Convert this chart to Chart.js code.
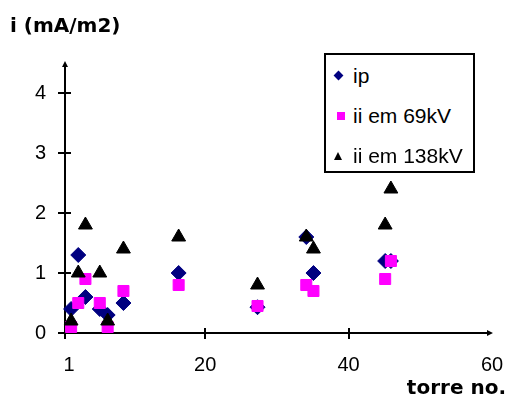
<!DOCTYPE html>
<html>
<head>
<meta charset="utf-8">
<title>i (mA/m2) x torre no.</title>
<script src="https://cdn.jsdelivr.net/npm/chart.js@4"></script>
<style>
  html, body { margin: 0; padding: 0; background: #fff; overflow: hidden; }
  .wrap { position: relative; width: 506px; height: 401px; }
  #chart { display: block; }
  .legend {
    position: absolute; left: 324px; top: 53px; width: 151px; height: 120px;
    box-sizing: border-box; border: 2px solid #000; background: #fff;
    padding-top: 1px; font-family: "Liberation Sans", Arial, sans-serif; font-size: 21px; color: #000;
  }
  .legend__item { position: relative; height: 40px; line-height: 40px; padding-left: 27px; white-space: nowrap; }
  .legend__mark { position: absolute; top: 50%; }
  .legend__mark--diamond { left: 9px; width: 7px; height: 7px; margin-top: -4px; background: #000080; transform: rotate(45deg); }
  .legend__mark--square { left: 11px; width: 8px; height: 8px; margin-top: -4px; background: #ff00ff; }
  .legend__mark--triangle { left: 8px; width: 0; height: 0; margin-top: -4px; border-left: 4.5px solid transparent; border-right: 4.5px solid transparent; border-bottom: 8px solid #000; }
</style>
</head>
<body>
<div class="wrap">
  <canvas id="chart" width="506" height="401"></canvas>
  <div class="legend">
    <div class="legend__item"><span class="legend__mark legend__mark--diamond"></span>ip</div>
    <div class="legend__item"><span class="legend__mark legend__mark--square"></span>ii em 69kV</div>
    <div class="legend__item"><span class="legend__mark legend__mark--triangle"></span>ii em 138kV</div>
  </div>
</div>
<script>
// Data
const towerNo = [1.3, 2.3, 3.3, 5.3, 6.4, 8.6, 16.3, 27.3, 34.1, 35.1, 45.1, 45.9];
const ip = [0.4, 1.3, 0.6, 0.4, 0.3, 0.5, 1.0, 0.43, 1.6, 1.0, 1.2, 1.2];
const ii69 = [0.1, 0.5, 0.9, 0.5, 0.1, 0.7, 0.8, 0.45, 0.8, 0.7, 0.9, 1.2];
const ii138 = [0.2, 1.0, 1.8, 1.0, 0.2, 1.4, 1.6, 0.8, 1.6, 1.4, 1.8, 2.4];
const xTicks = [1, 20, 40, 60];
const yTicks = [0, 1, 2, 3, 4];

document.addEventListener("DOMContentLoaded", () => {
  initializeChart();
});

function toPoints(values) {
  return values.map((v, i) => ({ x: towerNo[i], y: v }));
}

// Axis lines with crossing tick marks and arrow heads (Excel look)
const axisArrows = {
  id: "axisArrows",
  beforeDatasetsDraw(chart) {
    const { ctx, chartArea: a, scales } = chart;
    const x = scales.x;
    const y = scales.y;

    ctx.save();
    ctx.strokeStyle = "#000";
    ctx.fillStyle = "#000";
    ctx.lineWidth = 2;
    ctx.beginPath();
    ctx.moveTo(a.left, a.bottom + 6);
    ctx.lineTo(a.left, a.top + 2);
    ctx.moveTo(a.left - 7, a.bottom);
    ctx.lineTo(a.right - 2, a.bottom);

    y.ticks.forEach((t) => {
      if (t.value === 0) return;
      const py = Math.round(y.getPixelForValue(t.value));
      ctx.moveTo(a.left - 7, py);
      ctx.lineTo(a.left + 6, py);
    });
    x.ticks.forEach((t) => {
      const px = Math.round(x.getPixelForValue(t.value));
      if (px - a.left < 8 || a.right - px < 8) return;
      ctx.moveTo(px, a.bottom - 5);
      ctx.lineTo(px, a.bottom + 6);
    });
    ctx.stroke();

    // arrow heads
    ctx.beginPath();
    ctx.moveTo(a.left, a.top - 2);
    ctx.lineTo(a.left - 3, a.top + 4);
    ctx.lineTo(a.left + 3, a.top + 4);
    ctx.closePath();
    ctx.moveTo(a.right + 1, a.bottom);
    ctx.lineTo(a.right - 5, a.bottom - 3);
    ctx.lineTo(a.right - 5, a.bottom + 3);
    ctx.closePath();
    ctx.fill();
    ctx.restore();
  },
};

function initializeChart() {
  const el = document.getElementById("chart");
  if (!el || typeof Chart === "undefined") return;

  const tickFont = { family: "'Liberation Sans', Arial, sans-serif", size: 20 };
  const titleFont = { family: "'DejaVu Sans', sans-serif", size: 20, weight: "bold" };

  new Chart(el, {
    type: "scatter",
    data: {
      datasets: [
        {
          label: "ip",
          data: toPoints(ip),
          pointStyle: "rectRot",
          pointRadius: 7.5,
          backgroundColor: "#000080",
          borderColor: "#000080",
          borderWidth: 1,
          order: 3,
          clip: false,
        },
        {
          label: "ii em 69kV",
          data: toPoints(ii69),
          pointStyle: "rect",
          pointRadius: 7.8,
          backgroundColor: "#ff00ff",
          borderColor: "#ff00ff",
          borderWidth: 1,
          order: 2,
          clip: false,
        },
        {
          label: "ii em 138kV",
          data: toPoints(ii138),
          pointStyle: "triangle",
          pointRadius: 8,
          backgroundColor: "#000",
          borderColor: "#000",
          borderWidth: 1,
          order: 1,
          clip: false,
        },
      ],
    },
    options: {
      responsive: false,
      animation: false,
      layout: { padding: { top: 15, left: 10, right: 0, bottom: 0 } },
      plugins: {
        legend: { display: false },
        tooltip: { enabled: false },
        title: {
          display: true,
          text: "i (mA/m2)",
          align: "start",
          color: "#000",
          font: titleFont,
          padding: { top: 0, bottom: 24 },
        },
        subtitle: {
          display: true,
          text: "torre no.",
          position: "bottom",
          align: "end",
          color: "#000",
          font: titleFont,
          padding: 0,
        },
      },
      scales: {
        x: {
          type: "linear",
          min: 0.45,
          max: 60,
          grid: { display: false, drawTicks: false },
          border: { display: false },
          ticks: { color: "#000", font: tickFont, padding: 20, maxRotation: 0 },
          afterBuildTicks: (scale) => {
            scale.ticks = xTicks.map((v) => ({ value: v }));
          },
          afterFit: (scale) => {
            scale.height = 44;
            scale.paddingLeft = 0;
            scale.paddingRight = 14;
          },
        },
        y: {
          type: "linear",
          min: 0,
          max: 4.5,
          grid: { display: false, drawTicks: false },
          border: { display: false },
          ticks: { color: "#000", font: tickFont, padding: 19 },
          afterBuildTicks: (scale) => {
            scale.ticks = yTicks.map((v) => ({ value: v }));
          },
          afterFit: (scale) => {
            scale.width = 55;
          },
        },
      },
    },
    plugins: [axisArrows],
  });
}
</script>
</body>
</html>
